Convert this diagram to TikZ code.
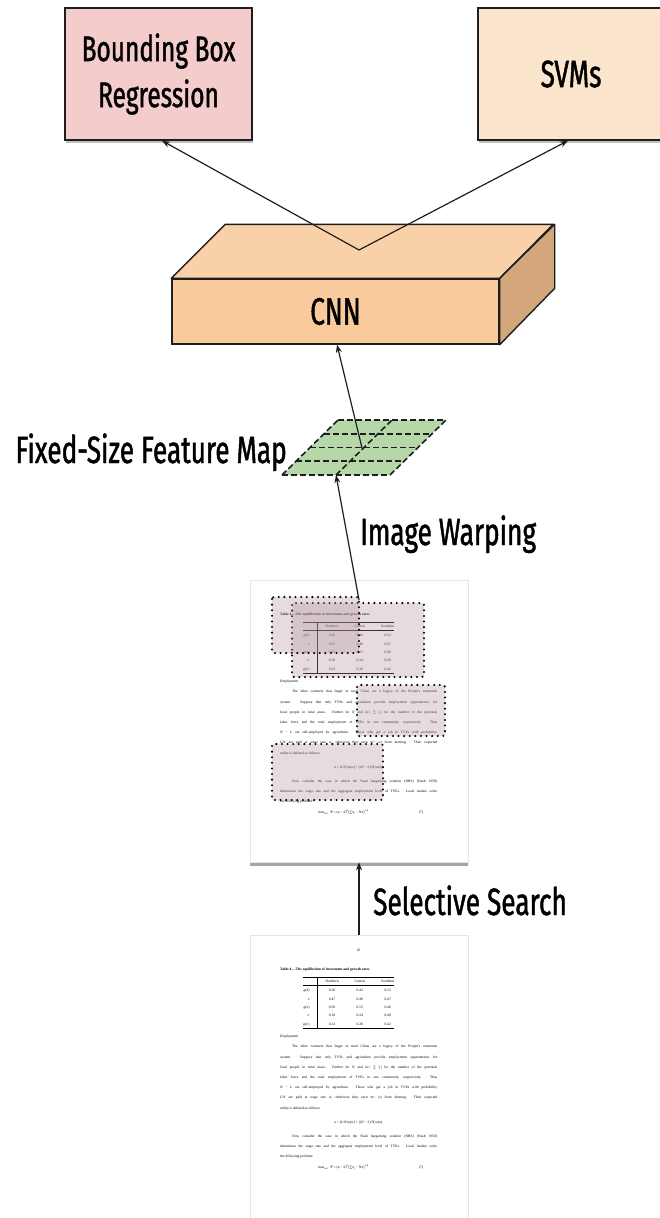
\documentclass[tikz,border=0pt]{standalone}
\usepackage{fontspec}
\setmainfont{Fira Sans}
\newfontfamily\labelfont{Fira Sans}[FakeStretch=0.69,FakeBold=1.2]
\newfontfamily\pagefont{Liberation Serif}
\usetikzlibrary{shadows,arrows.meta,calc}

\definecolor{bbpink}{HTML}{F4CCCC}
\definecolor{svmorange}{HTML}{FCE5CD}
\definecolor{cnnfront}{HTML}{F9CB9C}
\definecolor{cnntop}{HTML}{F9D1A8}
\definecolor{cnnside}{HTML}{D4A67C}
\definecolor{mapgreen}{HTML}{B6D7A8}
\definecolor{edgecol}{HTML}{1E1E1E}
\definecolor{roicol}{HTML}{B497A3}

\newcommand{\docbody}[1]{%
\begin{minipage}[t]{157pt}%
\pagefont\fontsize{3.6}{4.3}\selectfont
\setlength{\parindent}{0pt}%
\centerline{#1}\par
\vspace{15pt}
\textbf{Table 4.---The equilibrium of investment and growth rates}\par
\vspace{4pt}
\hspace*{23pt}{\renewcommand{\arraystretch}{1.95}\setlength{\tabcolsep}{8pt}%
\begin{tabular}{@{}r|ccc@{}}
\hline
 & Northern & Central & Southern\\ \hline
\textit{g}(δ) & 0.30 & 0.43 & 0.52\\
\textit{s} & 0.47 & 0.49 & 0.47\\
\textit{g}(π) & 0.50 & 0.53 & 0.46\\
\textit{s}′ & 0.18 & 0.24 & 0.49\\
\textit{g}(\textit{s}′) & 0.23 & 0.28 & 0.42\\ \hline
\end{tabular}}\par
\vspace{6pt}
\fontsize{3.6}{10.2}\selectfont
\textit{Employment}\par
\hspace*{12pt}\makebox[145pt][s]{The labor contracts that linger in rural China are a legacy of the People's commune}\par
\makebox[157pt][s]{system. Suppose that only TVEs and agriculture provide employment opportunities for}\par
\makebox[157pt][s]{local people in rural areas. Further let \textit{N} and \textit{L}(= ∑ \textit{l}\textsubscript{i}) be the number of the potential}\par
\makebox[157pt][s]{labor force and the total employment of TVEs in one community, respectively. Thus}\par
\makebox[157pt][s]{\textit{N} − \textit{L} are self-employed by agriculture. Those who get a job in TVEs with probability}\par
\makebox[157pt][s]{\textit{L}/\textit{N} are paid at wage rate \textit{w}, otherwise they earn π(< \textit{w}) from farming. Their expected}\par
utility is defined as follows:\par
\vspace{4pt}
\centerline{\textit{u} = (\textit{L}/\textit{N})\,\textit{u}(\textit{w}) + ((\textit{N} − \textit{L})/\textit{N})\,\textit{u}(π).}\par
\vspace{4pt}
\hspace*{12pt}\makebox[145pt][s]{Now consider the case in which the Nash bargaining solution (NBS) (Nash 1950)}\par
\makebox[157pt][s]{determines the wage rate and the aggregate employment level of TVEs. Local leaders solve}\par
the following problem:\par
\hspace*{38pt}max\textsubscript{\textit{w,L}}\ \ Ψ = (\textit{u} − \textit{ū})\textsuperscript{β}[∑π\textsubscript{i} − \textit{N}π]\textsuperscript{1−β}\hfill(7)\hspace*{14pt}\par
\end{minipage}}

\tikzset{
  lbl/.style={font=\labelfont\fontsize{38}{45}\selectfont, text=black, inner sep=0pt},
  headbox/.style={draw=edgecol, line width=1.4pt, align=center,
    font=\labelfont\fontsize{38}{45}\selectfont, inner sep=0pt,
    drop shadow={opacity=0.5, shadow xshift=1pt, shadow yshift=-2.5pt}},
  conn/.style={draw=edgecol, line width=1.2pt, -{Stealth[length=8pt,width=6pt]}},
  gridline/.style={draw=edgecol, line width=1.6pt, dash pattern=on 6pt off 3pt},
  sheet/.style={draw=gray!20, fill=white, line width=0.6pt, inner sep=0pt,
    drop shadow={opacity=0.7, shadow xshift=0pt, shadow yshift=-3.5pt}},
  roibox/.style={fill=roicol, fill opacity=0.33, draw=black, draw opacity=1,
    line width=2.3pt, dash pattern=on 0pt off 5.6pt, line cap=round, rounded corners=2pt},
}

\begin{document}
\begin{tikzpicture}[x=1pt,y=-1pt]
\useasboundingbox (0,0) rectangle (660,1218);
\fill[white] (0,0) rectangle (660,1218);
\clip (0,0) rectangle (660,1218);

% top boxes
\node[headbox, fill=bbpink, minimum width=187pt, minimum height=132pt,
      font=\labelfont\fontsize{35.5}{46}\selectfont] (bb) at (158.5,74) {Bounding Box\\Regression};
\node[headbox, fill=svmorange, minimum width=186pt, minimum height=132pt] (svm) at (571,74) {SVMs};

% CNN block
\node[draw=edgecol, line width=1.4pt, fill=cnnfront, minimum width=327pt, minimum height=65pt, inner sep=0pt,
      font=\labelfont\fontsize{38}{45}\selectfont] (cnn) at (335.5,311.5) {CNN};
\draw[draw=edgecol, line width=1.4pt, fill=cnntop, line join=round]
  (cnn.north west) -- ++(54,-54) -- ++(328,0) -- (cnn.north east) -- cycle;
\draw[draw=edgecol, line width=1.4pt, fill=cnnside, line join=round]
  (cnn.north east) -- ++(55,-54) -- ++(0,64) -- (cnn.south east) -- cycle;

\coordinate (apex) at (359,250);
\draw[conn] (apex) -- ([xshift=3.5pt]bb.south);
\draw[conn] (apex) -- ([xshift=-3pt]svm.south);

% feature map
\coordinate (fBL) at (282,475);
\coordinate (fBR) at (390,475);
\coordinate (fTR) at (446,420);
\coordinate (fTL) at (338,420);
\fill[mapgreen] (fBL) -- (fBR) -- (fTR) -- (fTL) -- cycle;
\foreach \t in {0,0.25,0.5,0.75,1}
  \draw[gridline] ($(fBL)!\t!(fTL)$) -- ($(fBR)!\t!(fTR)$);
\foreach \s in {0,0.5,1}
  \draw[gridline] ($(fBL)!\s!(fBR)$) -- ($(fTL)!\s!(fTR)$);
\coordinate (fC) at (362,448);
\coordinate (fB) at ($(fBL)!0.5!(fBR)$);
\draw[conn] (fC) -- ([xshift=1.5pt]cnn.south);
\node[lbl, anchor=base east] (fmlbl) at (287,463) {Fixed-Size Feature Map};

% pages
\node[sheet, minimum width=218pt, minimum height=282pt] (page1) at (359,721) {};
\node[sheet, minimum width=218pt, minimum height=300pt] (page2) at (359,1085) {};
\node[anchor=north west, inner sep=0pt] (body1) at (280,594) {\docbody{\phantom{26}}};
\node[anchor=north west, inner sep=0pt] (body2) at (280,949) {\docbody{26}};

% region proposals
\draw[roibox] (292,603) rectangle (424,677);
\draw[roibox] (272,597) rectangle (359,653);
\draw[roibox] (357,685) rectangle (445,736);
\draw[roibox] (272,744) rectangle (383,800);

\coordinate (warpstart) at (359,600);
\draw[conn] (warpstart) -- (fB);
\node[lbl, anchor=base west] (warplbl) at (360,545) {Image Warping};

\draw[conn] (page2.north) -- (page1.south);
\node[lbl, anchor=base west] (sslbl) at (373,915) {Selective Search};
\end{tikzpicture}
\end{document}
